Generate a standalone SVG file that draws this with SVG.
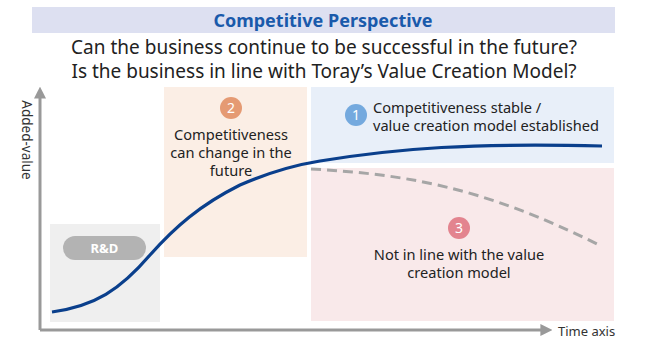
<svg xmlns="http://www.w3.org/2000/svg" width="656" height="341" viewBox="0 0 656 341">
<style>
text{font-family:"Noto Sans","Open Sans","DejaVu Sans",sans-serif;fill:#222}
.q{font-size:19px}
.t{font-size:14.6px}
.n{font-size:14px;fill:#fff;text-anchor:middle}
.c{text-anchor:middle}
.ax{stroke:#999;stroke-width:3;fill:none}
</style>
<defs>
<marker id="ah" markerWidth="4" markerHeight="4" refX="2.2" refY="2" orient="auto" markerUnits="strokeWidth">
<path d="M0,0 L4,2 L0,4 Z" fill="#999"/>
</marker>
</defs>
<rect x="0" y="0" width="656" height="341" fill="#fff"/>
<g id="header">
<rect x="32" y="7" width="583" height="26" fill="#dde0f1"/>
<text x="323" y="26.5" class="c" style="font-size:18px;font-weight:bold;fill:#1a5aab">Competitive Perspective</text>
<text x="324" y="54" class="c q">Can the business continue to be successful in the future?</text>
<text x="324" y="78" class="c q">Is the business in line with Toray’s Value Creation Model?</text>
</g>
<g id="rd">
<rect x="50" y="224" width="110" height="98" fill="#efefef"/>
<rect x="63" y="236" width="83" height="24" rx="12" fill="#b3b3b3"/>
<text x="104.5" y="253" class="c" style="font-size:13px;font-weight:bold;fill:#fff">R&amp;D</text>
</g>
<g id="zone2">
<rect x="164" y="87" width="143" height="170" fill="#fbeee5"/>
<circle cx="231" cy="108" r="11" fill="#e59a73"/>
<text x="231" y="113" class="n">2</text>
<text x="231" y="140" class="c t">Competitiveness</text>
<text x="231" y="158" class="c t">can change in the</text>
<text x="231" y="176" class="c t">future</text>
</g>
<g id="zone1">
<rect x="311" y="87" width="303" height="76" fill="#e8eff9"/>
<circle cx="356" cy="115" r="11" fill="#74a9de"/>
<text x="356" y="120" class="n">1</text>
<text x="373" y="113" class="t">Competitiveness stable /</text>
<text x="373" y="131" class="t">value creation model established</text>
</g>
<g id="zone3">
<rect x="311" y="168" width="303" height="153" fill="#f9e9ea"/>
<circle cx="459" cy="228" r="11" fill="#e3848f"/>
<text x="459" y="233" class="n">3</text>
<text x="459" y="260" class="c t">Not in line with the value</text>
<text x="459" y="278" class="c t">creation model</text>
</g>
<g id="connectors">
<path d="M40,330 V92" class="ax" marker-end="url(#ah)"/>
<path d="M40,330 H547" class="ax" marker-end="url(#ah)"/>
<path d="M52,312 C95,306 120,290 150,255 C175,227 200,205 240,185 C270,172 295,165 320,161 C400,148 470,143 602,146" fill="none" stroke="#0a3f8c" stroke-width="3.2"/>
<path d="M311,169 C400,174 480,185 601,246" fill="none" stroke="#a6a6a6" stroke-width="3" stroke-dasharray="10,6"/>
</g>
<g id="labels">
<text transform="translate(22,140) rotate(90)" class="c" style="font-size:13.5px;fill:#333">Added-value</text>
<text x="558" y="336" style="font-size:13px;fill:#333">Time axis</text>
</g>
</svg>
